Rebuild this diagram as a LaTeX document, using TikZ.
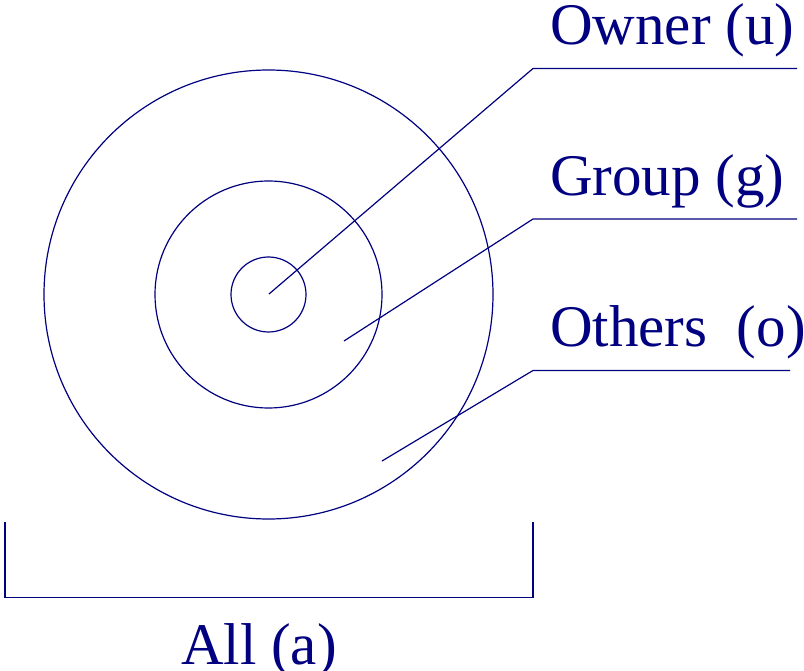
\documentclass[tikz,border=0pt]{standalone}
\usepackage{fontspec}
\setmainfont{Liberation Serif}
\definecolor{navy}{RGB}{0,0,128}
\begin{document}
\begin{tikzpicture}[x=1pt,y=-1pt,
  ln/.style={draw=navy,line width=1.2pt},
  lbl/.style={anchor=base west,inner sep=0pt,text=navy,font=\fontsize{59}{60}\selectfont}]
\useasboundingbox (0,0) rectangle (804,671);
\coordinate (c) at (268.5,294.5);
\draw[ln] (c) circle[radius=37.5];
\draw[ln] (c) circle[radius=113.5];
\draw[ln] (c) circle[radius=224.5];
% labels
\node[lbl] (owner) at (550,45) {Owner (u)};
\node[lbl] (group) at (550,196) {Group (g)};
\node[lbl] (others) at (550,347) {Others\ \ (o)};
\node[lbl] (all) at (181,664) {All (a)};
% leader lines
\coordinate (ou) at (269,294);
\coordinate (ok) at (533,68.5);
\coordinate (oe) at (797,68.5);
\draw[ln] (ou) -- (ok) -- (oe);
\coordinate (gu) at (344,341);
\coordinate (gk) at (533,219);
\coordinate (ge) at (797,219);
\draw[ln] (gu) -- (gk) -- (ge);
\coordinate (su) at (382,461);
\coordinate (sk) at (533,370.5);
\coordinate (se) at (790,370.5);
\draw[ln] (su) -- (sk) -- (se);
% bracket
\coordinate (b1) at (5,522);
\coordinate (b2) at (5,597.5);
\coordinate (b3) at (533,597.5);
\coordinate (b4) at (533,522);
\draw[ln] (b1) -- (b2) -- (b3) -- (b4);
\end{tikzpicture}
\end{document}
